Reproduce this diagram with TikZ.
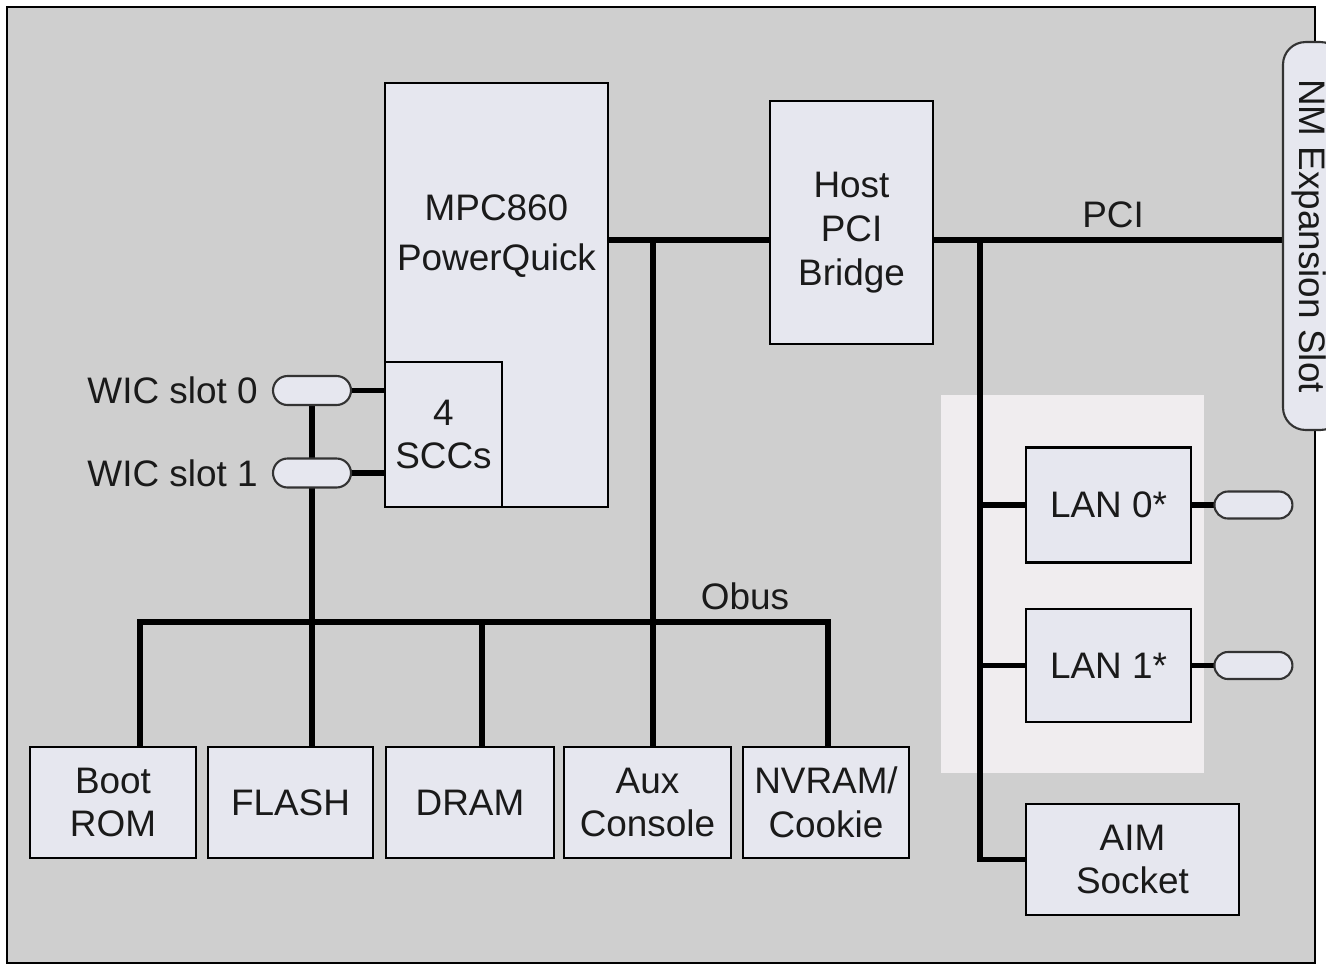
\documentclass[tikz,border=0pt]{standalone}
\usepackage{fontspec}
\setmainfont{Liberation Sans}
\usetikzlibrary{positioning,calc,shapes.misc}
\definecolor{cBack}{HTML}{CFCFCF}
\definecolor{cFill}{HTML}{E6E7EF}
\definecolor{cZone}{HTML}{F0EDEF}
\definecolor{cInk}{HTML}{1A1A1A}
\newcommand{\bigfont}{\fontsize{21}{25}\selectfont}
\tikzset{
  blk/.style={draw=black,fill=cFill,line width=1.6pt,align=center,font=\bigfont,text=cInk,inner sep=0pt},
  pill/.style={rounded rectangle,draw=black!80,fill=cFill,line width=1.2pt,inner sep=0pt,minimum width=1.56cm,minimum height=0.58cm},
  bus/.style={line width=3.1pt,draw=black,line cap=rect},
  lbl/.style={font=\bigfont,text=cInk,inner sep=0pt},
}
\pgfdeclarelayer{back}
\pgfdeclarelayer{wires}
\pgfsetlayers{back,wires,main}

\begin{document}
\begin{tikzpicture}[x=0.02cm,y=-0.02cm]
  \useasboundingbox (0,0) rectangle (1326,965);
  \begin{pgfonlayer}{back}
    \fill[white] (0,0) rectangle (1326,965);
    \draw[fill=cBack,line width=1.5pt] (7,7) rectangle (1315,963);
    \fill[cZone] (941,395) rectangle (1204,773);
  \end{pgfonlayer}
  % processor and bridge
  \node[blk,minimum width=4.46cm,minimum height=8.48cm] (mpc) at (496.5,295) {};
  \node[lbl,align=center,font=\fontsize{21}{28}\selectfont] (mpctxt) at (496.5,236) {MPC860\\PowerQuick};
  \node[blk,minimum width=2.34cm,minimum height=2.9cm] (scc) at (443.5,434.5) {4\\SCCs};
  \node[blk,minimum width=3.26cm,minimum height=4.86cm] (host) at (851.5,222.5) {};
  \node[lbl,align=center] (hosttxt) at (851.5,233) {Host\\PCI\\Bridge};
  % memories on the obus
  \node[blk,minimum width=3.32cm,minimum height=2.22cm] (boot) at (113,802.5) {Boot\\ROM};
  \node[blk,minimum width=3.30cm,minimum height=2.22cm] (flash) at (290.5,802.5) {FLASH};
  \node[blk,minimum width=3.36cm,minimum height=2.22cm] (dram) at (470,802.5) {DRAM};
  \node[blk,minimum width=3.34cm,minimum height=2.22cm] (aux) at (647.5,802.5) {Aux\\Console};
  \node[blk,minimum width=3.32cm,minimum height=2.22cm] (nvram) at (826,802.5) {NVRAM/\\Cookie};
  % wic slots
  \node[pill] (wic0) at (312,390.5) {};
  \node[pill] (wic1) at (312,473) {};
  \node[lbl,left=0.28cm of wic0] (wic0lbl) {WIC slot 0};
  \node[lbl,left=0.28cm of wic1] (wic1lbl) {WIC slot 1};
  % pci side
  \node[blk,minimum width=3.30cm,minimum height=2.30cm] (lan0) at (1108.5,505) {LAN 0*};
  \node[blk,minimum width=3.30cm,minimum height=2.26cm] (lan1) at (1108.5,665.5) {LAN 1*};
  \node[blk,minimum width=4.26cm,minimum height=2.22cm] (aim) at (1132.5,859.5) {AIM\\Socket};
  \node[pill,minimum height=0.54cm,right=0.42cm of lan0] (lp0) {};
  \node[pill,minimum height=0.54cm,right=0.42cm of lan1] (lp1) {};
  \node[blk,rounded corners=0.45cm,line width=1.2pt,draw=black!80,rotate=-90,
        minimum width=7.76cm,minimum height=1.2cm] (nm) at (1313,236) {};
  \node[lbl,rotate=-90] (nmtxt) at (1309,236) {NM Expansion Slot};
  \node[lbl] (pcilbl) at (1113,215) {PCI};
  \node[lbl] (obuslbl) at (745,596) {Obus};
  \begin{pgfonlayer}{wires}
    \coordinate (lb) at (653,240);
    \coordinate (pb) at (980,240);
    \draw[bus] (lb -| mpc.east) -- (lb -| host.west);
    \draw[bus] (pb -| host.east) -- (pb -| nm.south);
    \draw[bus] (lb) -- (lb |- aux.north);
    \foreach \n/\x in {boot/140,flash/312,dram/482,aux/653,nvram/828}{
      \coordinate (ob-\n) at (\x,622);
      \draw[bus] (ob-\n) -- (ob-\n |- \n.north);
    }
    \draw[bus] (ob-boot) -- (ob-nvram);
    \draw[bus] (wic0) -- (wic0 |- flash.north);
    \draw[bus] (wic0.east) -- (wic0.east -| scc.west);
    \draw[bus] (wic1.east) -- (wic1.east -| scc.west);
    \draw[bus] (pb) |- (aim.west);
    \draw[bus] (pb |- lan0.west) -- (lan0.west);
    \draw[bus] (pb |- lan1.west) -- (lan1.west);
    \draw[bus] (lan0.east) -- (lp0.west);
    \draw[bus] (lan1.east) -- (lp1.west);
  \end{pgfonlayer}
\end{tikzpicture}
\end{document}
